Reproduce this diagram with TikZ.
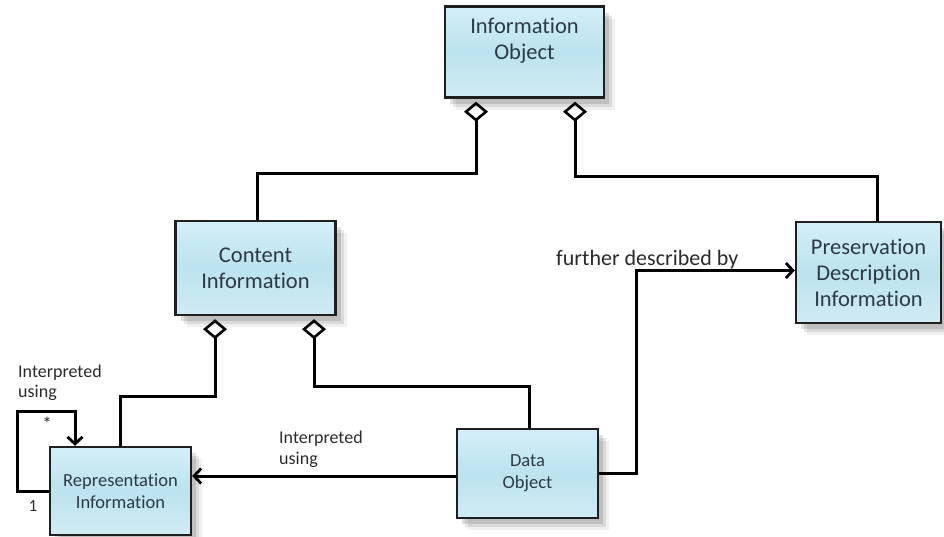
\documentclass[tikz,border=0pt]{standalone}
\usepackage{fontspec}
\setmainfont{Carlito}[Ligatures={NoCommon}]
\usetikzlibrary{arrows.meta,shadows,calc}
\definecolor{boxtxt}{HTML}{2C3A44}
\definecolor{boxtop}{HTML}{D3EFF7}
\definecolor{boxbot}{HTML}{BCE3EE}
\definecolor{lbl}{HTML}{2A2A2A}
\tikzset{
  cls/.style={draw=black!88, line width=2.4pt, top color=boxtop, bottom color=boxbot!70!white,
    middle color=boxbot,
    text=boxtxt, align=center, inner sep=0pt,
    drop shadow={shadow xshift=11pt, shadow yshift=-12pt, opacity=0.06, fill=black},
    drop shadow={shadow xshift=8pt, shadow yshift=-9pt, opacity=0.09, fill=black},
    drop shadow={shadow xshift=5pt, shadow yshift=-6pt, opacity=0.12, fill=black}},
  big/.style={font=\fontsize{22.5}{26}\selectfont},
  small/.style={font=\fontsize{18.5}{22}\selectfont},
  agg/.style={line width=3pt, {Diamond[open, length=20pt, width=24pt, line width=2.6pt]}-},
  arr/.style={line width=3pt, -{Straight Barb[length=7pt, width=15pt, line width=2.8pt]}},
  lab/.style={text=lbl, inner sep=0pt, align=left}
}
\begin{document}
\begin{tikzpicture}[x=1pt, y=-1pt]
\useasboundingbox (0,0) rectangle (944,536);
\node[cls, big, minimum width=159pt, minimum height=91pt] (io) at (524.5,52) {Information\\Object\\\mbox{}};
\node[cls, big, minimum width=160pt, minimum height=94pt] (ci) at (255.5,268) {Content\\Information};
\node[cls, big, minimum width=145pt, minimum height=101pt] (pdi) at (868.5,272.5) {Preservation\\Description\\Information};
\node[cls, small, minimum width=141pt, minimum height=89pt] (do) at (527.5,473.5) {Data\\Object};
\node[cls, small, minimum width=141pt, minimum height=88pt] (ri) at (120.5,491) {Representation\\Information};

\draw[agg] ([xshift=-48.5pt,yshift=-3pt]io.south) -- ++(0,72) -| ([xshift=1.5pt]ci.north);
\draw[agg] ([xshift=50.5pt,yshift=-3pt]io.south) -- ++(0,75) -| ([xshift=8.5pt]pdi.north);
\draw[agg] ([xshift=-40.5pt,yshift=-3pt]ci.south) -- ++(0,77) -| (ri.north);
\draw[agg] ([xshift=58.5pt,yshift=-3pt]ci.south) -- ++(0,67) -| ([xshift=1.5pt]do.north);
\draw[arr] (do.east) -- ++(37,0) |- ([yshift=2pt]pdi.west);
\draw[arr] ([yshift=-2.5pt]do.west) -- ([yshift=-2.5pt]do.west -| ri.east);
\coordinate (loop) at (17,411);
\draw[arr] (ri.west) -| (loop) -| ([xshift=-45.5pt]ri.north);

\node[lab, font=\fontsize{22}{26}\selectfont, anchor=base west] (fdb) at (556,265) {further described by};
\node[lab, font=\fontsize{18}{21}\selectfont, anchor=north west] (iu2) at (279,431) {Interpreted\\using};
\node[lab, font=\fontsize{18}{20}\selectfont, anchor=north west] (iu1) at (18,365) {Interpreted\\using};
\node[lab, font=\fontsize{19}{18}\selectfont] (star) at (47,424) {*};
\node[lab, font=\fontsize{17}{18}\selectfont] (one) at (33,506) {1};
\end{tikzpicture}
\end{document}
